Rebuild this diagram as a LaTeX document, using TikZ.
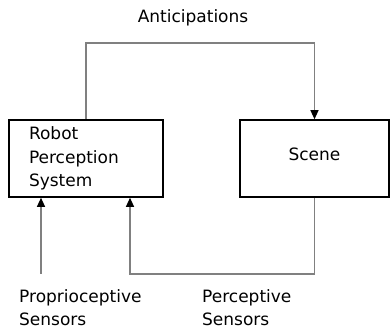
\documentclass[tikz,border=0pt]{standalone}
\usepackage{fontspec}
\setmainfont{DejaVu Sans}
\usetikzlibrary{arrows.meta}

\tikzset{
  block/.style={draw, line width=1.6pt, minimum height=77pt, inner xsep=20pt,
    font=\fontsize{17}{23.5}\selectfont},
  txt/.style={inner sep=0pt, font=\fontsize{17}{23.5}\selectfont},
  link/.style={draw=gray, line width=1.1pt,
    -{Triangle[length=9pt,width=8pt,color=black]}}
}

\begin{document}
\begin{tikzpicture}[x=1pt,y=-1pt]
\useasboundingbox (0,0) rectangle (391,331);
% boxes
\node[block, text width=114pt, align=left] (rps) at (86,158.5) {Robot\\Perception\\System};
\node[block, minimum width=149pt, text depth=9pt] (scene) at (314.5,158.5) {Scene};
% texts
\node[txt] (antic) at (193,18) {Anticipations};
\node[txt, anchor=north west, align=left] (prop) at (19,289) {Proprioceptive\\Sensors};
\node[txt, anchor=north west, align=left] (perc) at (202,289) {Perceptive\\Sensors};
% connectors
\coordinate (top) at (86,43);
\coordinate (bend) at (130,274);
\coordinate (propin) at (41,274);
\draw[link] (rps.north) -- (rps.north |- top) -| (scene.north);
\draw[link] (scene.south) |- (bend) -- (bend |- rps.south);
\draw[link] (propin) -- (propin |- rps.south);
\end{tikzpicture}
\end{document}
